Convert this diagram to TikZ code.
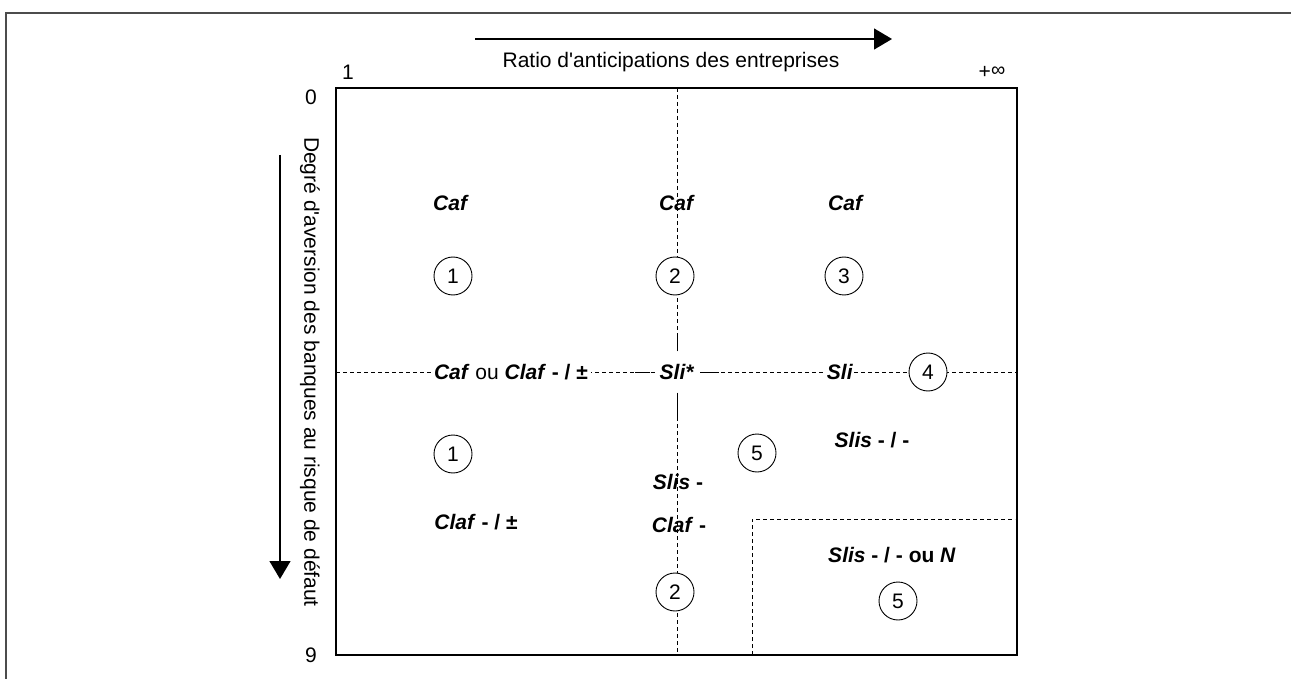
\documentclass[tikz,border=0pt]{standalone}
\usepackage{fontspec}
\setmainfont{Liberation Sans}[Ligatures=TeXOff]
\usetikzlibrary{arrows.meta}
\newcommand{\bfit}[1]{\textbf{\textit{#1}}}

\begin{document}
\begin{tikzpicture}[x=1pt,y=-1pt]
          \tikzset{
            Lab/.style = {inner sep=1pt, font=\fontsize{21}{25}\selectfont},
            Cut/.style = {Lab, fill=white, inner sep=3pt},
            Num/.style = {Lab, circle, draw, fill=white, minimum size=38pt,
              inner sep=0pt, line width=0.9pt},
            Grid/.style = {dash pattern=on 4pt off 3pt, line width=0.9pt},
            Axis/.style = {line width=1.3pt, -{Triangle[length=18pt,width=21pt]}} }
          \useasboundingbox (0,0) rectangle (1291,679);
          % outer frame
          \draw[gray!60!black, line width=1.6pt] (6,679) -- (6,13) -- (1291,13);

          \coordinate (NW) at (336,88);
          \coordinate (SE) at (1017,655);
          \coordinate (VT) at (677,88);
          \coordinate (VB) at (677,655);
          \coordinate (HL) at (336,372);
          \coordinate (HR) at (1017,372);
          \coordinate (ZB) at (752,655);
          \coordinate (ZC) at (752,519);
          \coordinate (ZR) at (1015,519);

          \draw[Grid] (VT) -- (VB);
          \draw[Grid] (HL) -- (HR);
          \draw[Grid] (ZB) -- (ZC) -- (ZR);
          \draw[line width=1.5pt] (NW) rectangle (SE);

          % axes
          \coordinate (XA) at (475,39);
          \coordinate (XB) at (892,39);
          \coordinate (YA) at (280,155);
          \coordinate (YB) at (280,579);
          \draw[Axis] (XA) -- (XB);
          \draw[Axis] (YA) -- (YB);
          \node[Lab] (ratio) at (671,62) {Ratio d'anticipations des entreprises};
          \node[Lab, rotate=-90] (degre) at (310,372)
            {Degré d'aversion des banques au risque de défaut};
          \node[Lab] (un) at (348,72) {1};
          \node[Lab] (infty) at (992,72) {+\raisebox{0.1ex}{\fontsize{20}{22}\selectfont∞}};
          \node[Lab] (zero) at (311,97) {0};
          \node[Lab] (neuf) at (311,655) {9};

          % upper zones
          \node[Lab] (caf1) at (451,203) {\bfit{Caf}};
          \node[Lab] (caf2) at (677,203) {\bfit{Caf}};
          \node[Lab] (caf3) at (846,203) {\bfit{Caf}};
          \node[Num] (z1a) at (453,276) {1};
          \node[Num] (z2a) at (675,276) {2};
          \node[Num] (z3) at (844,276) {3};

          % middle line
          \node[Cut] (ou) at (511,372) {\bfit{Caf} ou \bfit{Claf} \textbf{- / ±}};
          \node[Cut, minimum height=41pt] (slistar) at (677,372) {\bfit{Sli*}};
          \node[Cut, inner sep=1pt] (sli) at (840,372) {\bfit{Sli}};
          \node[Num] (z4) at (928,372) {4};
          \draw[line width=0.9pt] ([xshift=-6pt]slistar.west) -- ++(-15,0);
          \draw[line width=0.9pt] ([xshift=6pt]slistar.east) -- ++(15,0);
          \draw[line width=0.9pt] (slistar.north) -- ++(0,-16);
          \draw[line width=0.9pt] (slistar.south) -- ++(0,27);

          % lower zones
          \node[Num] (z1b) at (453,454) {1};
          \node[Num] (z5a) at (757,453) {5};
          \node[Lab] (slis1) at (872,440) {\bfit{Slis} \textbf{- / -}};
          \node[Lab] (slis2) at (678,482) {\bfit{Slis} \textbf{-}};
          \node[Lab] (claf2) at (679,525) {\bfit{Claf} \textbf{-}};
          \node[Lab] (claf1) at (476,522) {\bfit{Claf} \textbf{- / ±}};
          \node[Lab] (slis3) at (892,555) {\bfit{Slis} \textbf{- / - ou} \bfit{N}};
          \node[Num] (z2b) at (675,592) {2};
          \node[Num] (z5b) at (898,601) {5};
\end{tikzpicture}
\end{document}
